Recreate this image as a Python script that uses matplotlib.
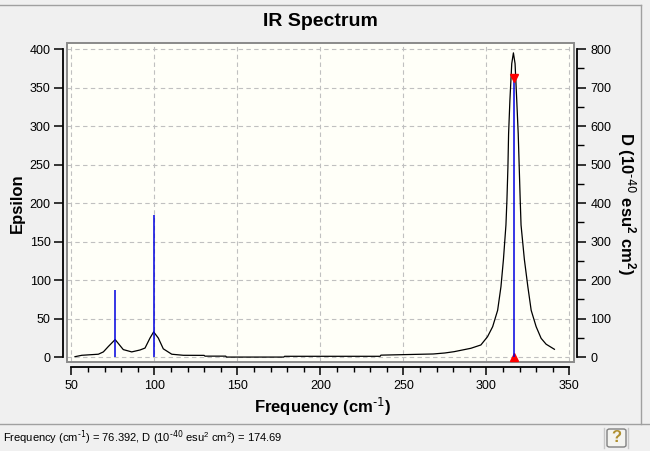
import matplotlib
matplotlib.use("Agg")
import matplotlib.pyplot as plt
from matplotlib.patches import Rectangle, FancyBboxPatch
from matplotlib.lines import Line2D
from matplotlib.ticker import MultipleLocator

plt.rcParams['font.family'] = ['Liberation Sans', 'DejaVu Sans']
plt.rcParams['mathtext.default'] = 'regular'

# broadened spectrum (frequency in cm-1, epsilon)
freq = [52.2, 56.3, 66.3, 69.3, 72.3, 76.4, 81.3, 86.4, 91.4, 94.4, 97.4, 99.6,
        102.4, 105.4, 110.5, 117.5, 130, 130.5, 143, 143.5, 178, 178.5, 236, 236.5,
        268, 275, 280.6, 290.7, 296.7, 300.7, 303.8, 306.8, 308.8, 310.3, 311.8,
        312.4, 313.0, 313.4, 314.2, 315.3, 316.3, 317.3, 318.3, 319.2, 319.8,
        320.4, 320.9, 322.9, 325.0, 327.0, 330.0, 333.0, 336.0, 341.0]
epsilon = [0.8, 2.6, 4, 7, 14, 23, 10, 7, 9.5, 12, 25, 33,
           25, 11, 4, 2.6, 2.5, 1.5, 1.5, 0.3, 0.3, 1.3, 1.3, 2.8,
           4.3, 5.6, 7.3, 11.7, 16, 26.7, 39.7, 61, 91.6, 127, 171.6,
           204, 247, 290, 334, 381, 395, 381, 334, 290, 247,
           204, 171.6, 127, 91.6, 61, 39.7, 24.6, 17, 10.4]

# computed modes (frequency, dipole strength D)
mode_freq = [76.392, 99.6, 197.5, 316.4]
mode_d = [174.69, 369, 1.5, 724]
selected = 316.4
selected_d = 724

W, H = 650, 451
fig = plt.figure(figsize=(W / 100, H / 100), dpi=100, facecolor='#f0f0f0')

def fx(px):
    return px / W

def fy(py):
    return 1 - py / H

# window frame and status bar
fig.add_artist(Line2D([0, fx(641)], [fy(5), fy(5)], color='#a0a0a0', lw=1))
fig.add_artist(Line2D([fx(641), fx(641)], [fy(5), fy(424)], color='#a0a0a0', lw=1))
fig.add_artist(Line2D([0, 1], [fy(424), fy(424)], color='#a0a0a0', lw=1))
fig.text(fx(3), fy(438),
         r'Frequency (cm$^{\text{-1}}$) = 76.392, D (10$^{\text{-40}}$ esu$^{2}$ cm$^{2}$) = 174.69',
         fontsize=8, ha='left', va='center')
for sx in (604, 628):
    fig.add_artist(Line2D([fx(sx), fx(sx)], [fy(428), fy(448)], color='#c8c8c8', lw=1))
fig.add_artist(FancyBboxPatch((fx(607), fy(447)), fx(19), 18 / H,
                              boxstyle='round,pad=0,rounding_size=0.004',
                              fc='#f4f4f0', ec='#808080', lw=1))
fig.text(fx(616.5), fy(438), '?', fontsize=12, fontweight='bold', color='#b09030',
         ha='center', va='center')

ax = fig.add_axes([fx(67), fy(362), (574 - 67) / W, (362 - 43) / H])
ax.set_facecolor('#fffff8')
ax.set_xlim(47.4, 352.8)
ax.set_ylim(-6.1, 407.8)

ax.plot(freq, epsilon, color='black', lw=0.9, zorder=3)

ax.set_xticks(range(50, 351, 50))
ax.set_yticks(range(0, 401, 50))
ax.xaxis.set_minor_locator(MultipleLocator(10))
ax.grid(True, which='major', color='#c0c0c0', ls=(0, (4, 3)), lw=0.8)
ax.set_axisbelow(True)

ax.spines['top'].set_visible(False)
ax.spines['right'].set_visible(False)
ax.spines['left'].set_position(('outward', 2.7))
ax.spines['left'].set_bounds(0, 400)
ax.spines['bottom'].set_position(('outward', 3.4))
ax.spines['bottom'].set_bounds(50, 350)
for s in ('left', 'bottom'):
    ax.spines[s].set_linewidth(1.3)
ax.tick_params(axis='y', length=6.5, width=1.1, labelsize=9, pad=2.6)
ax.tick_params(axis='x', which='major', length=5.5, width=1.1, labelsize=9, pad=4)
ax.tick_params(axis='x', which='minor', length=3.7, width=1.0)

# plot area border
ax.add_patch(Rectangle((0, 0), 1, 1, transform=ax.transAxes, fill=False,
                       ec='#8a8a8a', lw=1.4, clip_on=False, zorder=5))

ax.plot([selected], [0], marker='^', color='red', ms=6, ls='none', zorder=6, clip_on=False)

ax2 = ax.twinx()
ax2.set_ylim(-12.2, 815.6)
ax2.vlines(mode_freq, 0, mode_d, color='#0000e0', lw=1.1, zorder=4)
ax2.plot([selected], [selected_d], marker='v', color='red', ms=6, ls='none', zorder=6)
for s in ('top', 'left', 'bottom'):
    ax2.spines[s].set_visible(False)
ax2.spines['right'].set_position(('outward', 2.4))
ax2.spines['right'].set_bounds(0, 800)
ax2.spines['right'].set_linewidth(1.3)
ax2.set_yticks(range(0, 801, 100))
ax2.yaxis.set_minor_locator(MultipleLocator(50))
ax2.tick_params(axis='y', which='major', length=6.5, width=1.1, labelsize=9, pad=2.8)
ax2.tick_params(axis='y', which='minor', length=5, width=1.0)

fig.text(fx(320), fy(22), 'IR Spectrum', fontsize=14, fontweight='bold', ha='center', va='center')
fig.text(fx(323), fy(407), r'Frequency (cm$^{\text{-1}}$)', fontsize=12, fontweight='bold',
         ha='center', va='center')
fig.text(fx(17), fy(203), 'Epsilon', fontsize=12, fontweight='bold', rotation=90,
         ha='center', va='center')
fig.text(fx(626), fy(204), r'D (10$^{\text{-40}}$ esu$^{2}$ cm$^{2}$)', fontsize=12,
         fontweight='bold', rotation=-90, ha='center', va='center')

fig.savefig('out.png', dpi=100, facecolor=fig.get_facecolor())
